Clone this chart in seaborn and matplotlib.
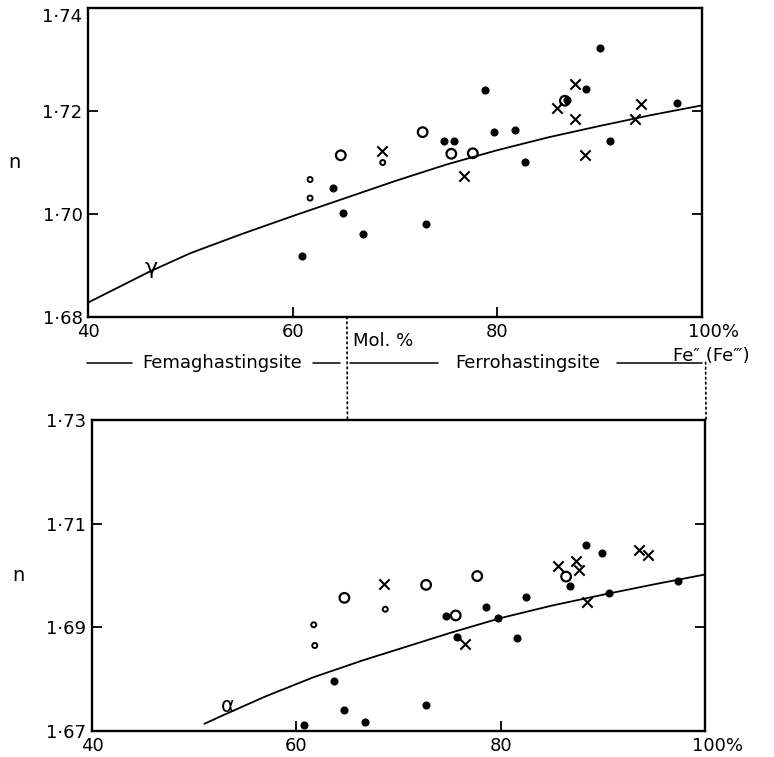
import matplotlib
matplotlib.use("Agg")
import matplotlib.pyplot as plt
from matplotlib.patches import ConnectionPatch
from matplotlib.transforms import ScaledTranslation
import seaborn as sns

# ── Data: upper panel (gamma) ────────────────────────────────────────────────
TOP_DOT_X = [60.9, 63.9, 64.9, 66.9, 73.0, 74.8, 75.8, 78.8, 79.7, 81.7, 82.7, 86.8, 88.7, 90.0, 91.0, 97.6]
TOP_DOT_N = [1.6918, 1.7050, 1.7002, 1.6961, 1.6980, 1.7141, 1.7141, 1.7241, 1.7159, 1.7163, 1.7101, 1.7222,
             1.7243, 1.7322, 1.7141, 1.7216]
TOP_RING_X = [64.7, 72.7, 75.5, 77.6, 86.6]
TOP_RING_N = [1.7114, 1.7159, 1.7117, 1.7118, 1.7220]
TOP_SMALL_X = [61.7, 61.7, 68.8]
TOP_SMALL_N = [1.7067, 1.7031, 1.7100]
TOP_CROSS_X = [68.7, 76.7, 85.8, 87.6, 87.6, 88.6, 93.5, 94.0]
TOP_CROSS_N = [1.7122, 1.7074, 1.7206, 1.7252, 1.7184, 1.7114, 1.7184, 1.7214]
TOP_CURVE_X = [40, 46, 50, 55, 60, 65, 70, 75, 80, 85, 90, 95, 100]
TOP_CURVE_N = [1.6828, 1.6888, 1.6924, 1.6961, 1.6996, 1.7030, 1.7064, 1.7096, 1.7124, 1.7149, 1.7171, 1.7192, 1.7211]

# ── Data: lower panel (alpha) ────────────────────────────────────────────────
BOT_DOT_X = [60.7, 63.7, 64.7, 66.7, 72.7, 74.6, 75.7, 78.6, 79.7, 81.6, 82.5, 86.8, 88.3, 89.9, 90.6, 97.4]
BOT_DOT_N = [1.6712, 1.6797, 1.6740, 1.6717, 1.6750, 1.6921, 1.6881, 1.6939, 1.6919, 1.6879, 1.6958, 1.6979,
             1.7059, 1.7044, 1.6967, 1.6990]
BOT_RING_X = [64.7, 72.7, 75.6, 77.7, 86.4]
BOT_RING_N = [1.6957, 1.6982, 1.6923, 1.6999, 1.6998]
BOT_SMALL_X = [61.7, 61.8, 68.7]
BOT_SMALL_N = [1.6905, 1.6865, 1.6935]
BOT_CROSS_X = [68.6, 76.5, 85.6, 87.4, 87.7, 88.4, 93.5, 94.4]
BOT_CROSS_N = [1.6983, 1.6868, 1.7019, 1.7029, 1.7010, 1.6948, 1.7050, 1.7039]
BOT_CURVE_X = [51, 53, 57, 61.7, 66.6, 70, 75, 80, 85, 90, 95, 100]
BOT_CURVE_N = [1.6714, 1.6732, 1.6767, 1.6804, 1.6837, 1.6858, 1.6889, 1.6918, 1.6942, 1.6963, 1.6983, 1.7002]

X_TICKS = [40, 60, 80, 100]
X_LABELS = ["40", "60", "80", "100%"]
TOP_Y_TICKS = [1.68, 1.70, 1.72, 1.74]
TOP_Y_LABELS = ["1·68", "1·70", "1·72", "1·74"]
BOT_Y_TICKS = [1.67, 1.69, 1.71, 1.73]
BOT_Y_LABELS = ["1·67", "1·69", "1·71", "1·73"]

FS = 13

sns.set_style("white")
plt.rcParams["font.family"] = ["DejaVu Sans"]
plt.rcParams.update({"text.color": "black", "axes.labelcolor": "black",
                     "xtick.color": "black", "ytick.color": "black"})


def draw_panel(ax, dots, rings, smalls, crosses, curve, yticks, ylabels, pct_shift):
    sns.lineplot(x=curve[0], y=curve[1], color="black", lw=1.3, sort=False,
                 estimator=None, ax=ax)
    sns.scatterplot(x=dots[0], y=dots[1], marker="o", s=34, color="black",
                    edgecolor="black", linewidth=0, ax=ax, zorder=3)
    sns.scatterplot(x=rings[0], y=rings[1], marker="o", s=48, facecolor="none",
                    edgecolor="black", linewidth=1.6, ax=ax, zorder=3)
    sns.scatterplot(x=smalls[0], y=smalls[1], marker="o", s=13, facecolor="none",
                    edgecolor="black", linewidth=1.4, ax=ax, zorder=3)
    sns.scatterplot(x=crosses[0], y=crosses[1], marker="x", s=55, color="black",
                    edgecolor="black", linewidth=1.5, ax=ax, zorder=3)

    ax.set_xlim(40, 100)
    ax.set_ylim(yticks[0], yticks[-1])
    ax.set_xticks(X_TICKS)
    ax.set_xticklabels(X_LABELS, fontsize=FS)
    ax.set_yticks(yticks)
    ax.set_yticklabels(ylabels, fontsize=FS)
    ax.tick_params(axis="both", direction="in", length=7, width=1.3, color="black",
                   bottom=True, left=True, right=True, top=False, pad=4)
    for sp in ax.spines.values():
        sp.set_linewidth(1.7)
        sp.set_color("black")
    ax.set_xlabel("")
    ax.set_ylabel("n", rotation=0, fontsize=FS + 1, va="center")
    ax.yaxis.set_label_coords(-0.12, 0.5)
    # the "100%" label sits a little to the right of its tick
    lab = ax.get_xticklabels()[-1]
    lab.set_transform(lab.get_transform() + ScaledTranslation(pct_shift / 72, 0, ax.figure.dpi_scale_trans))


fig = plt.figure(figsize=(7.74, 7.57), dpi=100)
ax1 = fig.add_axes([0.1137, 0.5812, 0.7933, 0.4082])
ax2 = fig.add_axes([0.1189, 0.0343, 0.7920, 0.4108])

draw_panel(ax1, (TOP_DOT_X, TOP_DOT_N), (TOP_RING_X, TOP_RING_N), (TOP_SMALL_X, TOP_SMALL_N),
           (TOP_CROSS_X, TOP_CROSS_N), (TOP_CURVE_X, TOP_CURVE_N), TOP_Y_TICKS, TOP_Y_LABELS, 8)
draw_panel(ax2, (BOT_DOT_X, BOT_DOT_N), (BOT_RING_X, BOT_RING_N), (BOT_SMALL_X, BOT_SMALL_N),
           (BOT_CROSS_X, BOT_CROSS_N), (BOT_CURVE_X, BOT_CURVE_N), BOT_Y_TICKS, BOT_Y_LABELS, 9)

# the top "1·74" label sits a little below the corner
ax1.get_yticklabels()[-1].set_transform(
    ax1.get_yticklabels()[-1].get_transform() + ScaledTranslation(0, -5 / 72, fig.dpi_scale_trans))

# curve labels
ax1.text(46.2, 1.6896, "γ", fontsize=16, ha="center", va="center")
ax2.text(53.3, 1.6748, "α", fontsize=15, ha="center", va="center")

# ── Between the panels: composition bar ──────────────────────────────────────
y_bar = 1.6710
ax1.plot([39.9, 44.3], [y_bar, y_bar], color="black", lw=1.1, clip_on=False)
ax1.plot([62.0, 64.6], [y_bar, y_bar], color="black", lw=1.1, clip_on=False)
ax1.plot([65.6, 74.2], [y_bar, y_bar], color="black", lw=1.1, clip_on=False)
ax1.plot([91.7, 100.0], [y_bar, y_bar], color="black", lw=1.1, clip_on=False)
ax1.text(53.1, y_bar, "Femaghastingsite", fontsize=FS, ha="center", va="center")
ax1.text(83.0, y_bar, "Ferrohastingsite", fontsize=FS, ha="center", va="center")
ax1.text(65.9, 1.6753, "Mol. %", fontsize=FS, ha="left", va="center")
ax1.text(97.2, 1.6724, "Fe\u2033 (Fe\u2034)", fontsize=FS, ha="left", va="center")

for xa, ya, xb in [(65.3, 1.68, 65.0), (100.35, 1.6712, 100.1)]:
    con = ConnectionPatch(xyA=(xa, ya), coordsA=ax1.transData,
                          xyB=(xb, 1.73), coordsB=ax2.transData,
                          linestyle=(0, (1, 2)), color="black", lw=1.2)
    fig.add_artist(con)

fig.savefig("out.png", dpi=100)
